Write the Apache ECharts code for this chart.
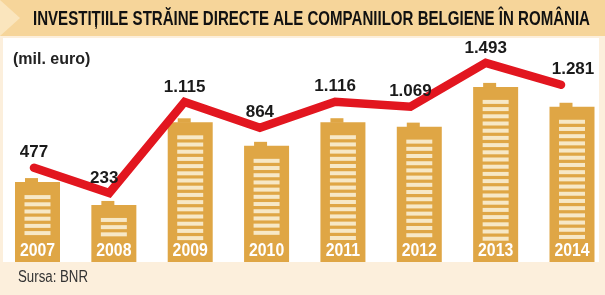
<!DOCTYPE html>
<html>
<head>
<meta charset="utf-8">
<style>
html,body{margin:0;padding:0;background:#fcefdc;}
#c{width:605px;height:295px;}
</style>
<script src="https://cdn.jsdelivr.net/npm/echarts@6/dist/echarts.min.js"></script>
</head>
<body>
<div id="c"></div>
<script>
const years = ['2007','2008','2009','2010','2011','2012','2013','2014'];
const values = [477, 233, 1115, 864, 1116, 1069, 1493, 1281];
const titleText = 'INVESTIȚIILE STRĂINE DIRECTE ALE COMPANIILOR BELGIENE ÎN ROMÂNIA';
const unitText = '(mil. euro)';
const sourceText = 'Sursa: BNR';

const FONT = '"Liberation Sans", Arial, sans-serif';
const barColor = '#dfa645';
const stripeColor = '#f7e8c6';
const lineColor = '#e2161f';

function fmt(v){
  const s = String(v);
  return s.length > 3 ? s.slice(0, s.length-3) + '.' + s.slice(s.length-3) : s;
}
function measure(text, font){
  const ctx = document.createElement('canvas').getContext('2d');
  ctx.font = font;
  return ctx.measureText(text).width;
}
const titleFont = 'bold 20px ' + FONT;
const titleScale = 557 / measure(titleText, titleFont);
const srcFont = '16px ' + FONT;
const srcScale = 70 / measure(sourceText, srcFont);

// per-label horizontal nudges, as in the original layout
const labelNudge = {1: -5, 7: 12};

const chart = echarts.init(document.getElementById('c'), null, {renderer:'canvas'});
chart.setOption({
  backgroundColor: '#fcefdc',
  animation: false,
  graphic: [
    {type:'rect', z:-10, shape:{x:0, y:0, width:605, height:36}, style:{fill:'#f6d59a'}},
    {type:'polygon', z:-9, shape:{points:[[0,0],[20,18],[0,36]]}, style:{fill:'#fae5bd'}},
    {type:'rect', z:-10, shape:{x:3, y:38, width:596, height:224}, style:{fill:'#ffffff'}},
    {type:'text', z:5, x:33, y:19, scaleX: titleScale, style:{text: titleText, textVerticalAlign:'middle',
      font: titleFont, fill:'#111'}},
    {type:'text', z:5, x:13, y:60, style:{text: unitText, textVerticalAlign:'middle',
      font:'bold 16px ' + FONT, fill:'#222'}},
    {type:'text', z:5, x:18, y:278, scaleX: srcScale, style:{text: sourceText, textVerticalAlign:'middle',
      font: srcFont, fill:'#333'}}
  ],
  grid: [
    {left: 37.5, width: 534.5, top: 38, height: 224},
    {left: 34, width: 527, top: 38, height: 224}
  ],
  xAxis: [
    {type:'category', gridIndex:0, data: years, show:false, boundaryGap:false},
    {type:'category', gridIndex:1, data: years, show:false, boundaryGap:false}
  ],
  yAxis: [
    {type:'value', gridIndex:0, min:-376, max:2015, show:false, splitLine:{show:false}},
    {type:'value', gridIndex:1, min:-436, max:1734, show:false, splitLine:{show:false}}
  ],
  series: [
    {
      type: 'custom',
      xAxisIndex: 0, yAxisIndex: 0,
      z: 2,
      clip: false,
      data: values.map((v, i) => [i, v]),
      renderItem: function(params, api){
        const i = api.value(0);
        const v = api.value(1);
        const top = api.coord([i, v]);
        const cs = params.coordSys;
        const bottomY = cs.y + cs.height;
        const w = 45;
        const x = top[0] - w/2;
        const children = [
          {type:'rect', shape:{x:x, y:top[1], width:w, height:bottomY-top[1]}, style:{fill:barColor}},
          {type:'rect', shape:{x:x+10, y:top[1]-4, width:13, height:4.5}, style:{fill:barColor}}
        ];
        const sw = 26;
        for (let y = top[1] + 13; y + 4 <= bottomY - 20; y += 7.2) {
          children.push({type:'rect', shape:{x: top[0]-sw/2, y: y, width: sw, height: 4}, style:{fill: stripeColor}});
        }
        children.push({type:'text', x: top[0], y: bottomY - 11, scaleX: 0.88,
          style:{text: years[i], textAlign:'center', textVerticalAlign:'middle',
          font:'bold 18px ' + FONT, fill:'#ffffff'}});
        return {type:'group', children: children};
      }
    },
    {
      type: 'line',
      xAxisIndex: 1, yAxisIndex: 1,
      z: 5,
      data: values.map((v, i) => labelNudge[i] !== undefined ? {value: v, label: {offset: [labelNudge[i], 0]}} : v),
      symbol: 'circle', symbolSize: 1, showSymbol: true,
      itemStyle: {color: 'rgba(0,0,0,0)'},
      lineStyle: {color: lineColor, width: 8.5, cap: 'round', join: 'miter'},
      label: {
        show: true, position: 'top', distance: 6,
        formatter: p => fmt(p.value),
        fontFamily: FONT, fontWeight: 'bold', fontSize: 17, color: '#1a1a1a'
      }
    }
  ]
});
</script>
</body>
</html>
